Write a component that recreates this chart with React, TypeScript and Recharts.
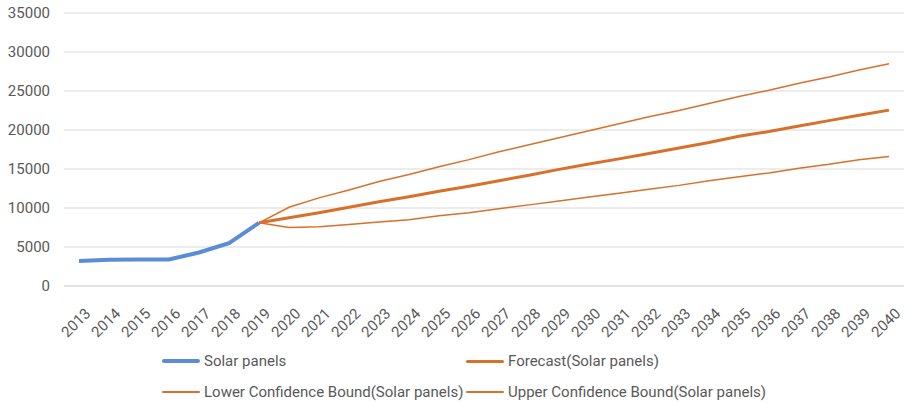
import { LineChart, Line, XAxis, YAxis, CartesianGrid, Legend } from 'recharts';

const years = [
  '2013', '2014', '2015', '2016', '2017', '2018', '2019', '2020', '2021', '2022',
  '2023', '2024', '2025', '2026', '2027', '2028', '2029', '2030', '2031', '2032',
  '2033', '2034', '2035', '2036', '2037', '2038', '2039', '2040',
];

// 2013 - 2019
const solarPanels = [3200, 3350, 3400, 3400, 4300, 5500, 8100];

// 2019 - 2040
const forecast = [
  8100, 8750, 9400, 10100, 10800, 11450, 12150, 12800, 13500, 14200, 14950,
  15650, 16300, 17000, 17700, 18400, 19200, 19800, 20500, 21200, 21900, 22550,
];
const lowerBound = [
  8100, 7500, 7600, 7900, 8200, 8500, 9000, 9400, 9900, 10400, 10900,
  11400, 11900, 12400, 12900, 13500, 14000, 14500, 15100, 15600, 16200, 16600,
];
const upperBound = [
  8100, 10100, 11300, 12300, 13400, 14300, 15300, 16200, 17200, 18100, 19000,
  19900, 20800, 21700, 22500, 23400, 24300, 25100, 26000, 26800, 27700, 28500,
];

const yTicks = [0, 5000, 10000, 15000, 20000, 25000, 30000, 35000];

const forecastStart = years.indexOf('2019');

const data = years.map((year, i) => ({
  year,
  solar: i < solarPanels.length ? solarPanels[i] : null,
  forecast: i >= forecastStart ? forecast[i - forecastStart] : null,
  lower: i >= forecastStart ? lowerBound[i - forecastStart] : null,
  upper: i >= forecastStart ? upperBound[i - forecastStart] : null,
}));

const BLUE = '#5B8DD6';
const ORANGE = '#D8702A';
const TEXT = '#595959';
const FONT = 'Roboto, "Noto Sans", sans-serif';

const legendItems = [
  { label: 'Solar panels', color: BLUE, width: 4, left: 162, top: 4 },
  { label: 'Forecast(Solar panels)', color: ORANGE, width: 3, left: 466, top: 4 },
  { label: 'Lower Confidence Bound(Solar panels)', color: ORANGE, width: 1.5, left: 162, top: 35 },
  { label: 'Upper Confidence Bound(Solar panels)', color: ORANGE, width: 1.5, left: 466, top: 35 },
];

function XTick({ x, y, payload }: any) {
  const px = x + 5;
  const py = y + 13;
  return (
    <text
      x={px}
      y={py}
      transform={`rotate(-45 ${px} ${py})`}
      textAnchor="end"
      dy="0.7em"
      fill={TEXT}
      fontSize={15}
      fontFamily={FONT}
    >
      {payload.value}
    </text>
  );
}

function ChartLegend() {
  return (
    <div style={{ position: 'relative', width: 904, height: 60, fontFamily: FONT, fontSize: 15, lineHeight: '18px', color: TEXT }}>
      {legendItems.map(item => (
        <div
          key={item.label}
          style={{ position: 'absolute', left: item.left, top: item.top, display: 'flex', alignItems: 'center', whiteSpace: 'nowrap' }}
        >
          <span style={{ display: 'inline-block', width: 38, height: item.width, background: item.color, borderRadius: 2, marginRight: 4 }} />
          <span>{item.label}</span>
        </div>
      ))}
    </div>
  );
}

export default function App() {
  return (
    <div style={{ position: 'absolute', left: 0, top: 0, width: 904, height: 404, background: '#fff' }}>
      <LineChart width={904} height={404} data={data} margin={{ top: 13, right: 0, left: 0, bottom: 0 }}>
        <CartesianGrid vertical={false} stroke="#d9d9d9" strokeWidth={1} />
        <XAxis
          dataKey="year"
          interval={0}
          padding={{ left: 15, right: 15 }}
          axisLine={{ stroke: '#d9d9d9' }}
          tickLine={false}
          tick={<XTick />}
          height={58}
        />
        <YAxis
          domain={[0, 35000]}
          ticks={yTicks}
          width={64}
          axisLine={false}
          tickLine={false}
          tickMargin={8}
          tick={{ fill: TEXT, fontSize: 15, fontFamily: FONT }}
        />
        <Legend
          verticalAlign="bottom"
          content={() => <ChartLegend />}
          wrapperStyle={{ position: 'absolute', left: 0, top: 348, width: 904, height: 60 }}
        />
        <Line dataKey="lower" stroke={ORANGE} strokeWidth={1.5} dot={false} isAnimationActive={false} />
        <Line dataKey="upper" stroke={ORANGE} strokeWidth={1.5} dot={false} isAnimationActive={false} />
        <Line dataKey="forecast" stroke={ORANGE} strokeWidth={3} dot={false} isAnimationActive={false} />
        <Line dataKey="solar" stroke={BLUE} strokeWidth={4} dot={false} isAnimationActive={false} />
      </LineChart>
    </div>
  );
}
